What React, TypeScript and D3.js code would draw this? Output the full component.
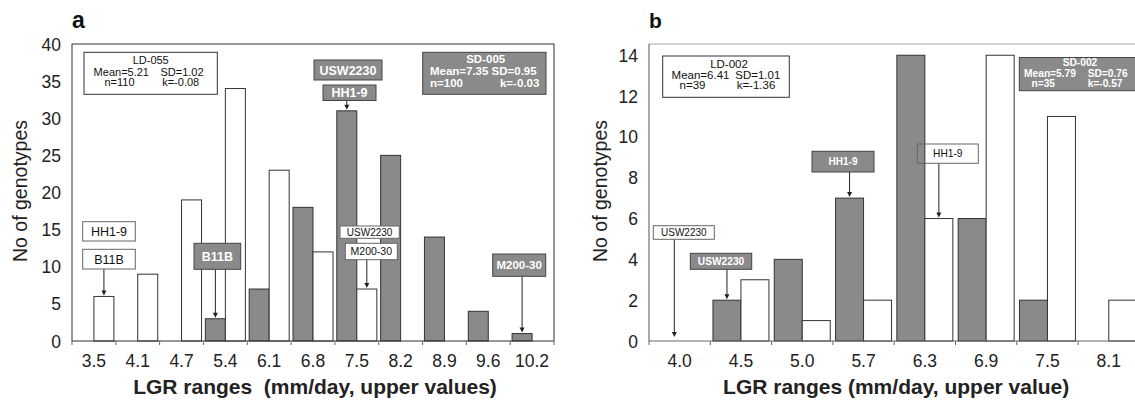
import React, { useEffect, useRef } from "react";
import * as d3 from "d3";

// panel a: LGR classes (upper values) and genotype counts
const rangesA = ["3.5", "4.1", "4.7", "5.4", "6.1", "6.8", "7.5", "8.2", "8.9", "9.6", "10.2"];
const countsLD055 = [6, 9, 19, 34, 23, 12, 7, 0, 0, 0, 0];
const countsSD005 = [0, 0, 0, 3, 7, 18, 31, 25, 14, 4, 1];
const yTicksA = [0, 5, 10, 15, 20, 25, 30, 35, 40];

// panel b
const rangesB = ["4.0", "4.5", "5.0", "5.7", "6.3", "6.9", "7.5", "8.1"];
const countsLD002 = [0, 3, 1, 2, 6, 14, 11, 2];
const countsSD002 = [0, 2, 4, 7, 14, 6, 2, 0];
const yTicksB = [0, 2, 4, 6, 8, 10, 12, 14];

// text of the summary boxes: name, mean, sd, n, kurtosis
const statsLD055 = ["LD-055", "Mean=5.21", "SD=1.02", "n=110", "k=-0.08"];
const statsSD005 = ["SD-005", "Mean=7.35", "SD=0.95", "n=100", "k=-0.03"];
const statsLD002 = ["LD-002", "Mean=6.41", "SD=1.01", "n=39", "k=-1.36"];
const statsSD002 = ["SD-002", "Mean=5.79", "SD=0.76", "n=35", "k=-0.57"];

// genotype call-outs (shade = which series, range = bar it points at)
const notesA = [
  { label: "USW2230", shade: "gray", range: "" },
  { label: "HH1-9", shade: "gray", range: "7.5" },
  { label: "HH1-9", shade: "white", range: "" },
  { label: "B11B", shade: "white", range: "3.5" },
  { label: "B11B", shade: "gray", range: "5.4" },
  { label: "USW2230", shade: "white", range: "" },
  { label: "M200-30", shade: "white", range: "7.5" },
  { label: "M200-30", shade: "gray", range: "10.2" },
];
const notesB = [
  { label: "HH1-9", shade: "gray", range: "5.7" },
  { label: "HH1-9", shade: "white", range: "6.3" },
  { label: "USW2230", shade: "white", range: "4.0" },
  { label: "USW2230", shade: "gray", range: "4.5" },
];

const FONT = "'Liberation Sans', Arial, Helvetica, sans-serif";
const GRAY = "#8a8a8a";

const drawPanel = (svg, p) => {
  const g = svg.append("g");

  const x = d3.scaleBand().domain(p.cats).range([p.left, p.right]);
  const sub = d3
    .scaleBand()
    .domain(["gray", "white"])
    .range([0, x.bandwidth()])
    .paddingOuter(0.095);
  const y = d3.scaleLinear().domain([0, p.yMax]).range([p.bottom, p.top]);

  const rows = p.cats.map((c, i) => ({ cat: c, gray: p.gray[i], white: p.white[i] }));

  //bars, zero counts are not drawn
  ["gray", "white"].forEach((s) => {
    g.append("g")
      .selectAll("rect")
      .data(rows.filter((d) => d[s] > 0))
      .join("rect")
      .attr("x", (d) => x(d.cat) + sub(s))
      .attr("y", (d) => y(d[s]))
      .attr("width", sub.bandwidth())
      .attr("height", (d) => y(0) - y(d[s]))
      .attr("fill", s === "gray" ? GRAY : "#fff")
      .attr("stroke", "#333")
      .attr("stroke-width", 1);
  });

  //frame
  if (p.openRight) {
    g.append("line").attr("x1", p.left).attr("x2", p.right + 20).attr("y1", p.top).attr("y2", p.top)
      .attr("stroke", "#aaa");
    g.append("line").attr("x1", p.left).attr("x2", p.left).attr("y1", p.top).attr("y2", p.bottom)
      .attr("stroke", "#555");
    g.append("line").attr("x1", p.left).attr("x2", p.right + 20).attr("y1", p.bottom).attr("y2", p.bottom)
      .attr("stroke", "#666");
  } else {
    g.append("rect")
      .attr("x", p.left).attr("y", p.top)
      .attr("width", p.right - p.left).attr("height", p.bottom - p.top)
      .attr("fill", "none").attr("stroke", "#333");
  }

  //x ticks at the band edges, labels in the middle
  const edges = d3.range(p.cats.length + 1).map((i) => p.left + i * x.step());
  g.append("g")
    .selectAll("line")
    .data(edges)
    .join("line")
    .attr("x1", (d) => d).attr("x2", (d) => d)
    .attr("y1", p.bottom).attr("y2", p.bottom + 4)
    .attr("stroke", "#666");
  g.append("g")
    .selectAll("text")
    .data(p.cats)
    .join("text")
    .attr("x", (d) => x(d) + x.bandwidth() / 2)
    .attr("y", p.bottom + 26)
    .attr("text-anchor", "middle")
    .attr("font-size", 17.5)
    .attr("fill", "#222")
    .text((d) => d);

  //y labels
  g.append("g")
    .selectAll("text")
    .data(p.yTicks)
    .join("text")
    .attr("x", p.left - 11)
    .attr("y", (d) => y(d) + 6.5)
    .attr("text-anchor", "end")
    .attr("font-size", 17.5)
    .attr("fill", "#222")
    .text((d) => d);

  //axis titles and panel letter
  g.append("text")
    .attr("transform", `translate(${p.yTitleX}, ${191}) rotate(-90)`)
    .attr("text-anchor", "middle")
    .attr("font-size", 19.5)
    .attr("fill", "#222")
    .text("No of genotypes");
  g.append("text")
    .attr("x", (p.left + p.right) / 2 + 2)
    .attr("y", 394)
    .attr("text-anchor", "middle")
    .attr("font-size", 21)
    .attr("font-weight", "bold")
    .attr("fill", "#222")
    .style("white-space", "pre")
    .text(p.xTitle);
  g.append("text")
    .attr("x", p.left)
    .attr("y", 27.5)
    .attr("font-size", p.letterSize)
    .attr("font-weight", "bold")
    .attr("fill", "#111")
    .text(p.letter);

  //summary boxes
  p.stats.forEach((b) => {
    const sg = g.append("g").attr("transform", `translate(${b.x}, ${b.y})`);
    sg.append("rect")
      .attr("width", b.w).attr("height", b.h)
      .attr("fill", b.dark ? GRAY : "#fff")
      .attr("stroke", b.dark ? "#444" : "#333");
    b.lines.forEach((l) => {
      sg.append("text")
        .attr("x", l[1]).attr("y", l[2])
        .attr("text-anchor", l[3])
        .attr("font-size", b.size)
        .attr("font-weight", b.dark ? "bold" : "normal")
        .attr("fill", b.dark ? "#fff" : "#111")
        .text(l[0]);
    });
  });

  //genotype call-outs with arrows
  p.notes.forEach((n, i) => {
    const [bx, by, bw, bh, fs, open, ax] = p.boxes[i];
    const dark = n.shade === "gray";
    if (n.range) {
      const v = (n.shade === "gray" ? p.gray : p.white)[p.cats.indexOf(n.range)];
      const tx = ax ?? x(n.range) + sub(n.shade) + sub.bandwidth() / 2;
      const ty = y(v) - (v === 0 ? 4 : 1);
      g.append("line")
        .attr("x1", tx).attr("x2", tx)
        .attr("y1", by + bh).attr("y2", ty - 4)
        .attr("stroke", "#222");
      g.append("path")
        .attr("d", `M${tx - 2.5},${ty - 5}L${tx + 2.5},${ty - 5}L${tx},${ty}Z`)
        .attr("fill", "#222");
    }
    g.append("rect")
      .attr("x", bx).attr("y", by).attr("width", bw).attr("height", bh)
      .attr("fill", dark ? GRAY : open ? "none" : "#fff")
      .attr("stroke", dark ? "#444" : "#666");
    g.append("text")
      .attr("x", bx + bw / 2)
      .attr("y", by + bh / 2)
      .attr("dy", "0.36em")
      .attr("text-anchor", "middle")
      .attr("font-size", fs)
      .attr("font-weight", dark ? "bold" : "normal")
      .attr("fill", dark ? "#fff" : "#111")
      .text(n.label);
  });
};

const App = () => {
  const ref = useRef(null);

  useEffect(() => {
    const svg = d3.select(ref.current);
    svg.selectAll("*").remove();

    drawPanel(svg, {
      cats: rangesA,
      gray: countsSD005,
      white: countsLD055,
      yMax: 40,
      yTicks: yTicksA,
      left: 72,
      right: 554,
      top: 44,
      bottom: 341,
      yTitleX: 27,
      letter: "a",
      letterSize: 23,
      xTitle: "LGR ranges  (mm/day, upper values)",
      stats: [
        {
          x: 84, y: 52.3, w: 133.3, h: 42, size: 11, dark: false,
          lines: [
            [statsLD055[0], 66.7, 11.7, "middle"],
            [statsLD055[1], 37.3, 23.4, "middle"],
            [statsLD055[2], 98, 23.4, "middle"],
            [statsLD055[3], 35.5, 34, "middle"],
            [statsLD055[4], 96.7, 34, "middle"],
          ],
        },
        {
          x: 422.7, y: 52.3, w: 123.3, h: 42, size: 11.5, dark: true,
          lines: [
            [statsSD005[0], 63, 11.2, "middle"],
            [`${statsSD005[1]} ${statsSD005[2]}`, 60.6, 22.8, "middle"],
            [statsSD005[3], 7.3, 35.2, "start"],
            [statsSD005[4], 116.6, 35.2, "end"],
          ],
        },
      ],
      notes: notesA,
      boxes: [
        [314, 60, 68, 20, 12.5],
        [323, 85, 53, 15.5, 12.5],
        [82.7, 221.7, 52.6, 19.3, 12.5],
        [82.7, 249.3, 52.6, 19.7, 12.5],
        [194, 243.3, 46.7, 26, 12.5],
        [340, 226, 59.3, 12.3, 10],
        [345.3, 243.3, 52, 16.4, 10.5],
        [492.7, 254, 53, 22.3, 11.5],
      ],
    });

    drawPanel(svg, {
      cats: rangesB,
      gray: countsSD002,
      white: countsLD002,
      yMax: 14.55,
      yTicks: yTicksB,
      left: 649,
      right: 1139.4,
      top: 44,
      bottom: 341,
      openRight: true,
      yTitleX: 607,
      letter: "b",
      letterSize: 21,
      xTitle: "LGR ranges (mm/day, upper value)",
      stats: [
        {
          x: 662.7, y: 56, w: 126.6, h: 41.3, size: 11.5, dark: false,
          lines: [
            [statsLD002[0], 66.3, 11.7, "middle"],
            [statsLD002[1], 37.8, 23, "middle"],
            [statsLD002[2], 95.1, 23, "middle"],
            [statsLD002[3], 29.8, 33.3, "middle"],
            [statsLD002[4], 93.3, 33.3, "middle"],
          ],
        },
        {
          x: 1019.3, y: 57.5, w: 118, h: 33.2, size: 10.2, dark: true,
          lines: [
            [statsSD002[0], 60.7, 8.8, "middle"],
            [statsSD002[1], 30.7, 19.5, "middle"],
            [statsSD002[2], 68.4, 19.5, "start"],
            [statsSD002[3], 24, 29.5, "middle"],
            [statsSD002[4], 68.4, 29.5, "start"],
          ],
        },
      ],
      notes: notesB,
      boxes: [
        [812, 151.3, 62, 20.7, 10],
        [917.3, 144, 61, 19.3, 10.2, true],
        [653.3, 225.7, 61, 13.6, 10, false, 674.3],
        [690.3, 253.3, 61.4, 16, 10.2],
      ],
    });
  }, []);

  return (
    <div>
      <svg
        ref={ref}
        width={1135}
        height={400}
        style={{ position: "absolute", left: 0, top: 0, fontFamily: FONT, background: "#fff" }}
      />
    </div>
  );
};

export default App;
